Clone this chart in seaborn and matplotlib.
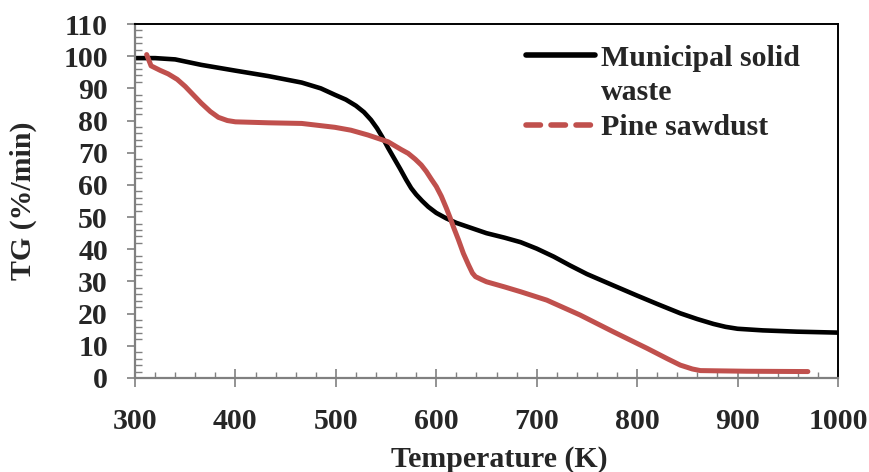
import matplotlib
matplotlib.use("Agg")
import matplotlib.pyplot as plt
import seaborn as sns
import pandas as pd
from matplotlib.lines import Line2D
from matplotlib.ticker import MultipleLocator

# Municipal solid waste TG curve
msw_temp = [300, 320, 340, 366, 400, 433, 466, 485, 499, 510, 520, 528, 535, 541, 546, 552,
            559, 564, 570, 575, 580, 586, 592, 600, 610, 620, 635, 650, 668, 684, 700, 717,
            733, 750, 776, 800, 820, 843, 860, 876, 888, 900, 925, 959, 1000]
msw_tg = [99.4, 99.4, 99.0, 97.3, 95.5, 93.8, 91.8, 90.0, 88.0, 86.5, 84.6, 82.6, 80.2, 77.6,
          75.0, 71.5, 67.7, 65.0, 61.6, 59.0, 57.0, 55.0, 53.2, 51.3, 49.6, 48.2, 46.6, 45.0,
          43.6, 42.2, 40.2, 37.7, 35.0, 32.3, 28.8, 25.6, 23.0, 20.1, 18.3, 16.8, 15.9, 15.3,
          14.8, 14.4, 14.1]

# Pine sawdust TG curve
pine_temp = [311.6, 316, 325, 333, 342, 350, 358, 366, 375, 383, 392, 400, 433, 466, 499,
             515, 532, 552, 565, 572, 579, 585, 590, 595, 600, 605, 610, 614, 617, 622, 627,
             632, 636, 639, 645, 650, 668, 684, 710, 743, 776, 810, 830, 843, 855, 863, 909, 970]
pine_tg = [100.5, 97.0, 95.6, 94.5, 92.8, 90.6, 88.0, 85.4, 82.8, 81.0, 80.0, 79.6, 79.3,
           79.1, 77.9, 77.0, 75.5, 73.4, 71.0, 69.8, 68.0, 66.2, 64.2, 61.8, 59.5, 56.5, 52.8,
           49.6, 47.0, 43.0, 38.7, 35.2, 32.6, 31.5, 30.6, 29.9, 28.3, 26.8, 24.2, 19.6, 14.4,
           9.2, 6.0, 4.0, 2.8, 2.3, 2.1, 2.0]

legend_lines = ["Municipal solid", "waste", "Pine sawdust"]
red = "#C0504D"
fs = 21.5

sns.set_style("white")
plt.rcParams['font.family'] = ['Liberation Serif', 'DejaVu Serif']
plt.rcParams['font.weight'] = 'bold'

fig = plt.figure(figsize=(8.69, 4.72), dpi=100)
ax = fig.add_axes([135 / 869, 1 - 378 / 472, 703 / 869, 354 / 472])

df_msw = pd.DataFrame({"T": msw_temp, "TG": msw_tg})
df_pine = pd.DataFrame({"T": pine_temp, "TG": pine_tg})
sns.lineplot(data=df_msw, x="T", y="TG", ax=ax, color="black", lw=3.3,
             solid_capstyle="round", solid_joinstyle="round", sort=False)
sns.lineplot(data=df_pine, x="T", y="TG", ax=ax, color=red, lw=3.6,
             solid_capstyle="round", solid_joinstyle="round", sort=False)

ax.set_xlim(300, 1000)
ax.set_ylim(0, 110)
ax.xaxis.set_major_locator(MultipleLocator(100))
ax.xaxis.set_minor_locator(MultipleLocator(20))
ax.yaxis.set_major_locator(MultipleLocator(10))
ax.yaxis.set_minor_locator(MultipleLocator(2))

for s in ["left", "bottom"]:
    ax.spines[s].set_color("#808080")
    ax.spines[s].set_linewidth(1.6)
for s in ["top", "right"]:
    ax.spines[s].set_color("black")
    ax.spines[s].set_linewidth(1.4)

ax.tick_params(axis="y", which="major", direction="out", length=5.5, width=1.2,
               color="#808080", labelsize=fs, pad=14, left=True)
ax.tick_params(axis="y", which="minor", direction="in", length=5, width=1.0,
               color="#808080", left=True)
ax.tick_params(axis="x", which="major", direction="inout", length=13, width=1.2,
               color="#808080", labelsize=fs, pad=15, bottom=True)
ax.tick_params(axis="x", which="minor", direction="in", length=4.5, width=1.0,
               color="#808080", bottom=True)

ax.set_xlabel("Temperature (K)", fontsize=fs, fontweight="bold")
ax.set_ylabel("TG (%/min)", fontsize=fs, fontweight="bold")
ax.xaxis.set_label_coords(0.518, -0.193)
ax.yaxis.set_label_coords(-0.139, 0.5)

# legend: second text line of the first entry has no handle
handles = [Line2D([], [], color="black", lw=4, solid_capstyle="round"),
           Line2D([], [], color="none"),
           Line2D([], [], color=red, lw=4, ls=(0, (2.6, 1.9)), dash_capstyle="round")]
ax.legend(handles, legend_lines, loc="upper left",
          bbox_to_anchor=(0.556, 0.942), frameon=False,
          handlelength=2.3, handletextpad=0.2, labelspacing=0.26,
          borderpad=0, borderaxespad=0,
          prop={"weight": "bold", "size": fs})

fig.savefig("out.png", dpi=100)
